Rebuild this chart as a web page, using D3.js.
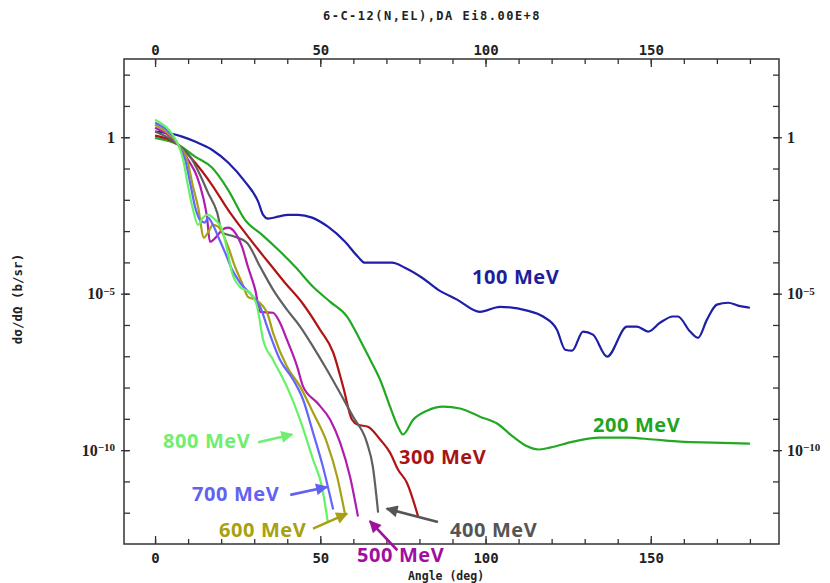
<!DOCTYPE html>
<html>
<head>
<meta charset="utf-8">
<script src="https://cdn.jsdelivr.net/npm/d3@7"></script>
<style>
  body { margin: 0; background: #fff; }
  svg { display: block; }
</style>
</head>
<body>
<svg id="chart" width="830" height="583"></svg>
<script>
// data: angle (deg) and log10 of dσ/dΩ (b/sr)
const ang100 = [0, 5.1, 8.2, 12.1, 17.2, 22.1, 27.2, 31.2, 32.7, 34.2, 37.2, 40.2, 43.3, 47.5, 52.3, 57.5, 61.4, 63.5, 66.6, 71.7, 75.6, 80.8, 85.6, 91.4, 98.3, 104.4, 112.6, 117.4, 121.6, 124.1, 126.2, 129.5, 132.5, 136.8, 142.8, 145.8, 149.2, 152.8, 156.7, 158.2, 161.9, 164.3, 167.0, 170.0, 173.4, 176.4, 180];
const log100 = [0.18, 0.11, 0.02, -0.14, -0.40, -0.81, -1.42, -2.06, -2.48, -2.60, -2.54, -2.48, -2.48, -2.57, -2.86, -3.34, -3.82, -4.01, -4.01, -4.01, -4.17, -4.49, -4.87, -5.19, -5.58, -5.42, -5.54, -5.73, -6.15, -6.79, -6.82, -6.21, -6.31, -7.01, -6.05, -6.05, -6.21, -5.93, -5.73, -5.73, -6.21, -6.41, -5.83, -5.35, -5.29, -5.38, -5.45];

const ang200 = [0, 7.0, 12.1, 17.2, 22.1, 27.2, 32.4, 37.2, 42.4, 47.8, 53.0, 58.1, 62.0, 65.1, 68.1, 71.1, 73.5, 75.0, 78.1, 82.3, 87.1, 92.3, 98.3, 103.5, 108.3, 112.6, 115.9, 119.5, 126.5, 134.6, 142.8, 150.7, 158.9, 168.8, 180];
const log200 = [-0.02, -0.24, -0.62, -0.97, -1.68, -2.64, -3.12, -3.59, -4.14, -4.78, -5.26, -5.73, -6.47, -7.11, -7.75, -8.61, -9.25, -9.50, -9.03, -8.74, -8.61, -8.67, -8.93, -9.15, -9.57, -9.88, -9.98, -9.92, -9.73, -9.60, -9.60, -9.66, -9.73, -9.76, -9.79];

const ang300 = [0, 7.0, 12.1, 17.2, 22.1, 27.2, 31.2, 35.4, 39.3, 44.5, 49.9, 53.9, 56.9, 59.6, 61.4, 64.4, 68.1, 71.1, 73.5, 76.2, 79.6];
const log300 = [0.05, -0.24, -0.81, -1.52, -2.32, -3.05, -3.59, -4.14, -4.65, -5.29, -6.15, -6.88, -7.97, -9.03, -9.19, -9.25, -9.66, -10.08, -10.62, -11.04, -12.12];

const ang400 = [0, 7.0, 11.2, 13.6, 16.0, 18.8, 20.3, 24.2, 27.8, 31.8, 35.7, 39.9, 43.9, 47.8, 52.0, 55.9, 59.9, 64.1, 65.9, 67.5];
const log400 = [0.18, -0.24, -0.72, -1.20, -1.77, -2.41, -3.05, -3.18, -3.37, -4.14, -4.87, -5.51, -6.05, -6.69, -7.43, -8.16, -8.93, -9.76, -10.53, -12.00];

const ang500 = [0, 7.0, 10.0, 12.7, 14.5, 15.7, 16.6, 18.8, 20.3, 22.1, 24.2, 26.3, 28.1, 30.3, 31.8, 35.7, 37.8, 39.9, 43.0, 44.8, 49.0, 53.0, 56.0, 59.0, 61.4];
const log500 = [0.30, -0.24, -0.72, -1.26, -1.90, -2.54, -3.34, -3.15, -2.96, -2.89, -3.05, -3.50, -4.14, -4.87, -5.58, -5.61, -5.93, -6.47, -7.33, -7.97, -8.48, -9.03, -9.76, -10.85, -12.12];

const ang600 = [0, 7.0, 9.7, 11.5, 13.0, 14.8, 16.0, 17.5, 19.1, 22.1, 24.2, 26.3, 28.1, 30.3, 33.9, 35.7, 39.9, 43.9, 47.8, 52.0, 55.1, 57.5];
const log600 = [0.40, -0.24, -0.72, -1.58, -2.22, -3.21, -3.05, -2.80, -2.86, -3.50, -4.14, -4.65, -5.10, -5.19, -5.61, -6.25, -7.33, -7.97, -8.80, -9.76, -10.85, -12.06];

const ang700 = [0, 7.0, 9.1, 10.6, 12.1, 13.6, 15.1, 16.0, 17.5, 19.1, 21.2, 23.3, 25.7, 29.7, 31.8, 33.9, 37.8, 41.8, 44.8, 47.8, 50.8, 53.9];
const log700 = [0.46, -0.24, -0.72, -1.45, -2.22, -2.64, -2.73, -2.57, -2.80, -3.18, -3.69, -4.23, -4.65, -5.10, -5.42, -6.05, -7.11, -7.75, -8.39, -9.44, -10.53, -11.90];

const ang800 = [0, 7.0, 8.5, 10.0, 11.5, 13.0, 14.5, 16.0, 18.2, 20.3, 21.8, 23.3, 25.7, 28.7, 30.9, 32.7, 35.7, 39.9, 43.9, 47.8, 50.5, 52.3];
const log800 = [0.56, -0.24, -0.72, -1.58, -2.32, -2.80, -2.57, -2.48, -2.64, -2.96, -3.59, -4.33, -4.78, -4.97, -5.42, -6.47, -7.11, -7.97, -9.03, -10.30, -11.17, -12.32];

const energies = ["100 MeV", "200 MeV", "300 MeV", "400 MeV", "500 MeV", "600 MeV", "700 MeV", "800 MeV"];
const lineColors = ["#1e1ea8", "#22a822", "#b01414", "#606060", "#b01cb0", "#a8a016", "#6464ff", "#66f266"];
const textColors = ["#1e1e9c", "#22a422", "#a81414", "#555555", "#a010a0", "#a8a010", "#6262f2", "#70ee70"];

const xTicks = [0, 50, 100, 150];
const xMinor = d3.range(0, 181, 10);
const yDecades = d3.range(2, -13, -1);
const yLabelExp = [0, -5, -10];

const title = "6-C-12(N,EL),DA Ei8.00E+8";
const xTitle = "Angle (deg)";
const yTitle = "dσ/dΩ (b/sr)";

const series = [
  [ang100, log100], [ang200, log200], [ang300, log300], [ang400, log400],
  [ang500, log500], [ang600, log600], [ang700, log700], [ang800, log800]
].map(([a, l], i) => ({
  name: energies[i],
  color: lineColors[i],
  points: a.map((v, j) => ({ angle: v, value: Math.pow(10, l[j]) }))
}));

// label anchors: label x/baseline y in px, arrow tail and tip as (deg, log10)
const labelPos = [
  { x: 472, y: 284 },
  { x: 593, y: 432 },
  { x: 399, y: 464 },
  { x: 450, y: 537, from: [85.6, -12.3], to: [70.1, -11.87] },
  { x: 357, y: 562, from: [73.3, -13.2], to: [65.0, -12.27] },
  { x: 219, y: 537, from: [47.8, -12.51], to: [58.1, -12.03] },
  { x: 192, y: 501, from: [40.9, -11.43], to: [52.0, -11.18] },
  { x: 163, y: 448, from: [31.2, -9.75], to: [41.5, -9.5] }
];

const svg = d3.select("#chart");
const plotLeft = 124, plotRight = 779, plotTop = 59, plotBottom = 544;

const x = d3.scaleLinear().domain([-9.4, 188.8]).range([plotLeft, plotRight]);
const y = d3.scaleLog().domain([Math.pow(10, 2.5), 1e-13]).range([plotTop, plotBottom]);

const monoFont = "'DejaVu Sans Mono', monospace";
const serifFont = "'Liberation Serif', 'DejaVu Serif', serif";

// title
svg.append("text")
  .attr("x", 432).attr("y", 20)
  .attr("text-anchor", "middle")
  .style("font-family", monoFont).style("font-weight", "bold")
  .style("font-size", "12px").style("letter-spacing", "1.5px")
  .attr("fill", "#222")
  .text(title);

// ticks, minor and major, pointing into the plot
function tickAxis(axisFn, scale, values, size, translate) {
  const g = svg.append("g")
    .attr("transform", translate)
    .call(axisFn(scale).tickValues(values).tickSize(size).tickFormat(""));
  g.select(".domain").remove();
  g.selectAll("line").attr("stroke", "#333").attr("stroke-width", 1.3);
  return g;
}
tickAxis(d3.axisTop, x, xMinor, 5, `translate(0,${plotBottom})`);
tickAxis(d3.axisTop, x, xTicks, 8, `translate(0,${plotBottom})`);
tickAxis(d3.axisBottom, x, xMinor, 5, `translate(0,${plotTop})`);
tickAxis(d3.axisBottom, x, xTicks, 8, `translate(0,${plotTop})`);

const decadeVals = yDecades.map(e => Math.pow(10, e));
const majorVals = yLabelExp.map(e => Math.pow(10, e));
tickAxis(d3.axisRight, y, decadeVals, 6, `translate(${plotLeft},0)`);
tickAxis(d3.axisLeft, y, decadeVals, 6, `translate(${plotRight},0)`);
tickAxis(d3.axisRight, y, majorVals, 8, `translate(${plotLeft - 3},0)`);
tickAxis(d3.axisLeft, y, majorVals, 8, `translate(${plotRight + 3},0)`);

// x tick labels
function xLabels(axisFn, translate, pad) {
  const g = svg.append("g")
    .attr("transform", translate)
    .call(axisFn(x).tickValues(xTicks).tickSize(0).tickPadding(pad));
  g.select(".domain").remove();
  g.selectAll("text")
    .style("font-family", monoFont).style("font-weight", "bold")
    .style("font-size", "14px").attr("fill", "#222");
}
xLabels(d3.axisBottom, `translate(0,${plotBottom})`, 9);
xLabels(d3.axisTop, `translate(0,${plotTop})`, 4);

// y tick labels with superscript exponents
function yLabels(axisFn, translate, pad) {
  const g = svg.append("g")
    .attr("transform", translate)
    .call(axisFn(y).tickValues(majorVals).tickSize(0).tickPadding(pad).tickFormat(""));
  g.select(".domain").remove();
  g.selectAll("text").each(function (d) {
    const t = d3.select(this)
      .style("font-family", serifFont).style("font-weight", "bold")
      .style("font-size", "16px").attr("fill", "#222").attr("dy", "0.32em");
    const e = Math.round(Math.log10(d));
    if (e === 0) {
      t.text("1");
    } else {
      t.append("tspan").text("10");
      t.append("tspan").attr("dy", "-0.4em").style("font-size", "11px").text("−" + Math.abs(e));
    }
  });
}
yLabels(d3.axisLeft, `translate(${plotLeft},0)`, 9);
yLabels(d3.axisRight, `translate(${plotRight},0)`, 8);

// curves
const line = d3.line()
  .curve(d3.curveMonotoneX)
  .x(d => x(d.angle))
  .y(d => y(d.value));

svg.append("g")
  .attr("fill", "none")
  .attr("stroke-width", 2.2)
  .attr("stroke-linejoin", "round")
  .selectAll("path")
  .data(series)
  .join("path")
  .attr("stroke", d => d.color)
  .attr("d", d => line(d.points));

// frame
svg.append("rect")
  .attr("x", plotLeft).attr("y", plotTop)
  .attr("width", plotRight - plotLeft).attr("height", plotBottom - plotTop)
  .attr("fill", "none").attr("stroke", "#333").attr("stroke-width", 1.5);

// energy labels and arrows
const defs = svg.append("defs");
textColors.forEach((c, i) => {
  defs.append("marker")
    .attr("id", `head-${i}`)
    .attr("viewBox", "0 -5 10 10")
    .attr("refX", 9).attr("refY", 0)
    .attr("markerUnits", "userSpaceOnUse")
    .attr("markerWidth", 14).attr("markerHeight", 12)
    .attr("orient", "auto")
    .append("path")
    .attr("d", "M0,-5L10,0L0,5Z")
    .attr("fill", c);
});

labelPos.forEach((p, i) => {
  svg.append("text")
    .attr("x", p.x).attr("y", p.y)
    .style("font-family", "'Open Sans', Lato, sans-serif")
    .style("font-weight", "bold")
    .style("font-size", "20px")
    .style("letter-spacing", "0.6px")
    .attr("fill", textColors[i])
    .text(energies[i]);
  if (p.from) {
    svg.append("line")
      .attr("x1", x(p.from[0])).attr("y1", y(Math.pow(10, p.from[1])))
      .attr("x2", x(p.to[0])).attr("y2", y(Math.pow(10, p.to[1])))
      .attr("stroke", textColors[i]).attr("stroke-width", 2.6)
      .attr("marker-end", `url(#head-${i})`);
  }
});

// axis titles
svg.append("text")
  .attr("x", 446).attr("y", 580)
  .attr("text-anchor", "middle")
  .style("font-family", monoFont).style("font-weight", "bold")
  .style("font-size", "11.5px").attr("fill", "#222")
  .text(xTitle);

svg.append("text")
  .attr("transform", "translate(22,299) rotate(-90)")
  .attr("text-anchor", "middle")
  .style("font-family", monoFont).style("font-weight", "bold")
  .style("font-size", "12.5px").attr("fill", "#222")
  .text(yTitle);
</script>
</body>
</html>
